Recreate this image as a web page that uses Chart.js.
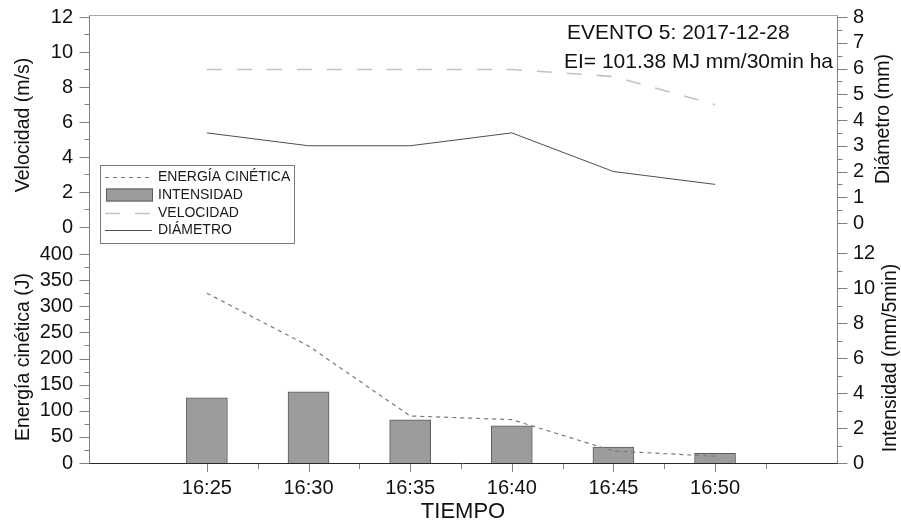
<!DOCTYPE html>
<html>
<head>
<meta charset="utf-8">
<script src="https://cdn.jsdelivr.net/npm/chart.js@4.4.0/dist/chart.umd.min.js"></script>
<style>
  html, body { margin: 0; padding: 0; background: #fff; }
  canvas { display: block; }
</style>
</head>
<body>
<canvas id="c" width="901" height="524"></canvas>
<script>
// Event 5 (2017-12-28): five-minute rainfall records
const horas = ['16:25', '16:30', '16:35', '16:40', '16:45', '16:50'];
const energiaCinetica = [325, 224, 90, 83, 23, 13];        // J
const intensidad = [3.73, 4.06, 2.46, 2.13, 0.91, 0.55];    // mm/5min
const velocidad = [9.0, 9.0, 9.0, 9.0, 8.6, 7.0];           // m/s
const diametro = [3.5, 3.0, 3.0, 3.5, 2.0, 1.5];            // mm

const ticksVelocidad = [0, 2, 4, 6, 8, 10, 12];
const ticksEnergia = [0, 50, 100, 150, 200, 250, 300, 350, 400];
const ticksDiametro = [0, 1, 2, 3, 4, 5, 6, 7, 8];
const ticksIntensidad = [0, 2, 4, 6, 8, 10, 12];

const textoEvento = 'EVENTO 5: 2017-12-28';
const textoEI = 'EI= 101.38 MJ mm/30min ha';

const FONT = '"Liberation Sans", Arial, Helvetica, sans-serif';
const INK = '#111';
const AXIS_GRAY = '#808080';

// minutes after 16:00 for each record
const minutos = horas.map(h => { const p = h.split(':').map(Number); return (p[0] - 16) * 60 + p[1]; });
const pts = arr => arr.map((v, i) => ({ x: minutos[i], y: v }));
const midpoints = a => a.slice(1).map((v, i) => (v + a[i]) / 2);

function yAxis(pos, stack, weight, min, max, values) {
  return {
    type: 'linear', position: pos, stack: stack, stackWeight: weight, min: min, max: max,
    grid: { display: false, drawTicks: false }, border: { display: false },
    ticks: { font: { family: FONT, size: 20 }, color: INK, padding: 16, autoSkip: false },
    afterBuildTicks: s => { s.ticks = values.map(v => ({ value: v })); },
    afterFit: s => { s.width = pos === 'left' ? 89 : 64; s.paddingTop = 0; s.paddingBottom = 0; }
  };
}

// frame, tick marks, axis titles, legend and event notes
const decor = {
  id: 'decor',
  afterDraw(chart) {
    const c = chart.ctx, ca = chart.chartArea, sc = chart.scales;
    c.save();

    // frame
    c.lineWidth = 1;
    c.strokeStyle = AXIS_GRAY;
    c.beginPath();
    c.moveTo(ca.left + 0.5, ca.top + 0.5); c.lineTo(ca.left + 0.5, ca.bottom);
    c.moveTo(ca.right + 0.5, ca.top + 0.5); c.lineTo(ca.right + 0.5, ca.bottom);
    c.stroke();
    c.strokeStyle = '#a8a8a8';
    c.beginPath();
    c.moveTo(ca.left, ca.top + 0.5); c.lineTo(ca.right + 1, ca.top + 0.5);
    c.stroke();
    c.strokeStyle = '#2a2a2a';
    c.beginPath();
    c.moveTo(ca.left, ca.bottom + 0.5); c.lineTo(ca.right + 1, ca.bottom + 0.5);
    c.stroke();

    // tick marks
    function marksY(scale, values, x, dir, len) {
      values.forEach(v => {
        const y = Math.round(scale.getPixelForValue(v)) + 0.5;
        c.moveTo(x, y); c.lineTo(x + dir * len, y);
      });
    }
    c.strokeStyle = AXIS_GRAY;
    c.beginPath();
    marksY(sc.yVel, ticksVelocidad, ca.left + 0.5, -1, 10);
    marksY(sc.yVel, midpoints(ticksVelocidad), ca.left + 0.5, -1, 5);
    marksY(sc.yEn, ticksEnergia, ca.left + 0.5, -1, 10);
    marksY(sc.yEn, midpoints(ticksEnergia), ca.left + 0.5, -1, 5);
    marksY(sc.yDia, ticksDiametro, ca.right + 0.5, 1, 10);
    marksY(sc.yDia, midpoints(ticksDiametro), ca.right + 0.5, 1, 5);
    marksY(sc.yInt, ticksIntensidad, ca.right + 0.5, 1, 10);
    marksY(sc.yInt, midpoints(ticksIntensidad), ca.right + 0.5, 1, 5);
    const xMinor = midpoints(minutos).concat([minutos[minutos.length - 1] + 2.5]);
    minutos.forEach(v => {
      const x = Math.round(sc.x.getPixelForValue(v)) + 0.5;
      c.moveTo(x, ca.bottom + 1); c.lineTo(x, ca.bottom + 9);
    });
    xMinor.forEach(v => {
      const x = Math.round(sc.x.getPixelForValue(v)) + 0.5;
      c.moveTo(x, ca.bottom + 1); c.lineTo(x, ca.bottom + 6);
    });
    c.stroke();

    // axis titles
    c.fillStyle = INK;
    c.textAlign = 'center';
    c.textBaseline = 'middle';
    c.font = '19.5px ' + FONT;
    function vtext(t, x, y) {
      c.save(); c.translate(x, y); c.rotate(-Math.PI / 2); c.fillText(t, 0, 0); c.restore();
    }
    vtext('Velocidad (m/s)', 24, 125);
    vtext('Energía cinética (J)', 24, 357);
    vtext('Diámetro (mm)', 884, 119);
    vtext('Intensidad (mm/5min)', 891, 358);
    c.font = '22px ' + FONT;
    c.fillText('TIEMPO', 463, 512);

    // event notes
    c.textAlign = 'left';
    c.font = '21px ' + FONT;
    c.fillText(textoEvento, 567, 33);
    c.fillText(textoEI, 564, 62);

    // legend
    const lx = 100, ly = 165, lw = 194, lh = 78;
    c.fillStyle = '#fff';
    c.fillRect(lx, ly, lw, lh);
    c.strokeStyle = '#7a7a7a';
    c.lineWidth = 1;
    c.strokeRect(lx + 0.5, ly + 0.5, lw, lh);
    const rows = [177, 195, 212.5, 230];
    c.font = '14px ' + FONT;
    c.textBaseline = 'middle';
    chart.data.datasets.forEach((ds, i) => {
      const y = rows[i];
      if (ds.type === 'bar') {
        c.fillStyle = ds.backgroundColor;
        c.fillRect(106, y - 6.5, 47, 13);
        c.strokeStyle = ds.borderColor;
        c.strokeRect(106.5, y - 6, 46, 12);
      } else {
        c.save();
        c.strokeStyle = ds.borderColor;
        c.lineWidth = ds.borderWidth;
        c.setLineDash(ds.borderDash || []);
        c.beginPath();
        c.moveTo(105, Math.round(y) + 0.5); c.lineTo(152, Math.round(y) + 0.5);
        c.stroke();
        c.restore();
      }
      c.fillStyle = '#1a1a1a';
      c.fillText(ds.label, 158, y + 0.5);
    });

    c.restore();
  }
};

new Chart(document.getElementById('c').getContext('2d'), {
  type: 'bar',
  data: {
    datasets: [
      { type: 'line', label: 'ENERGÍA CINÉTICA', data: pts(energiaCinetica), yAxisID: 'yEn',
        borderColor: '#7a7a7a', borderWidth: 1.2, borderDash: [4, 4], pointRadius: 0, tension: 0, fill: false, order: 1 },
      { type: 'bar', label: 'INTENSIDAD', data: pts(intensidad), yAxisID: 'yInt',
        backgroundColor: '#9c9c9c', borderColor: '#5c5c5c', borderWidth: 1, barThickness: 41, order: 2 },
      { type: 'line', label: 'VELOCIDAD', data: pts(velocidad), yAxisID: 'yVel',
        borderColor: '#c2c2c2', borderWidth: 1.6, borderDash: [15, 15], pointRadius: 0, tension: 0, fill: false, order: 1 },
      { type: 'line', label: 'DIÁMETRO', data: pts(diametro), yAxisID: 'yDia',
        borderColor: '#4e4e4e', borderWidth: 1, pointRadius: 0, tension: 0, fill: false, order: 1 }
    ]
  },
  options: {
    responsive: false, animation: false, devicePixelRatio: 1, events: [],
    layout: { padding: { top: 15, left: 0, right: 0, bottom: 0 }, autoPadding: false },
    plugins: { legend: { display: false }, tooltip: { enabled: false } },
    scales: {
      x: {
        type: 'linear', position: 'bottom', min: 19.2, max: 56, offset: false,
        grid: { display: false, drawTicks: false }, border: { display: false },
        ticks: {
          font: { family: FONT, size: 20 }, color: INK, padding: 13, maxRotation: 0, autoSkip: false,
          callback: v => { const i = minutos.indexOf(v); return i >= 0 ? horas[i] : ''; }
        },
        afterBuildTicks: s => { s.ticks = minutos.map(v => ({ value: v })); },
        afterFit: s => { s.height = 61; s.paddingLeft = 0; s.paddingRight = 0; }
      },
      yEn: yAxis('left', 'izq', 223, 0, 426.8, ticksEnergia),
      yVel: yAxis('left', 'izq', 225, -0.743, 12.114, ticksVelocidad),
      yDia: yAxis('right', 'der', 225, -0.660, 8.078, ticksDiametro),
      yInt: yAxis('right', 'der', 223, 0, 12.743, ticksIntensidad)
    }
  },
  plugins: [decor]
});
</script>
</body>
</html>
